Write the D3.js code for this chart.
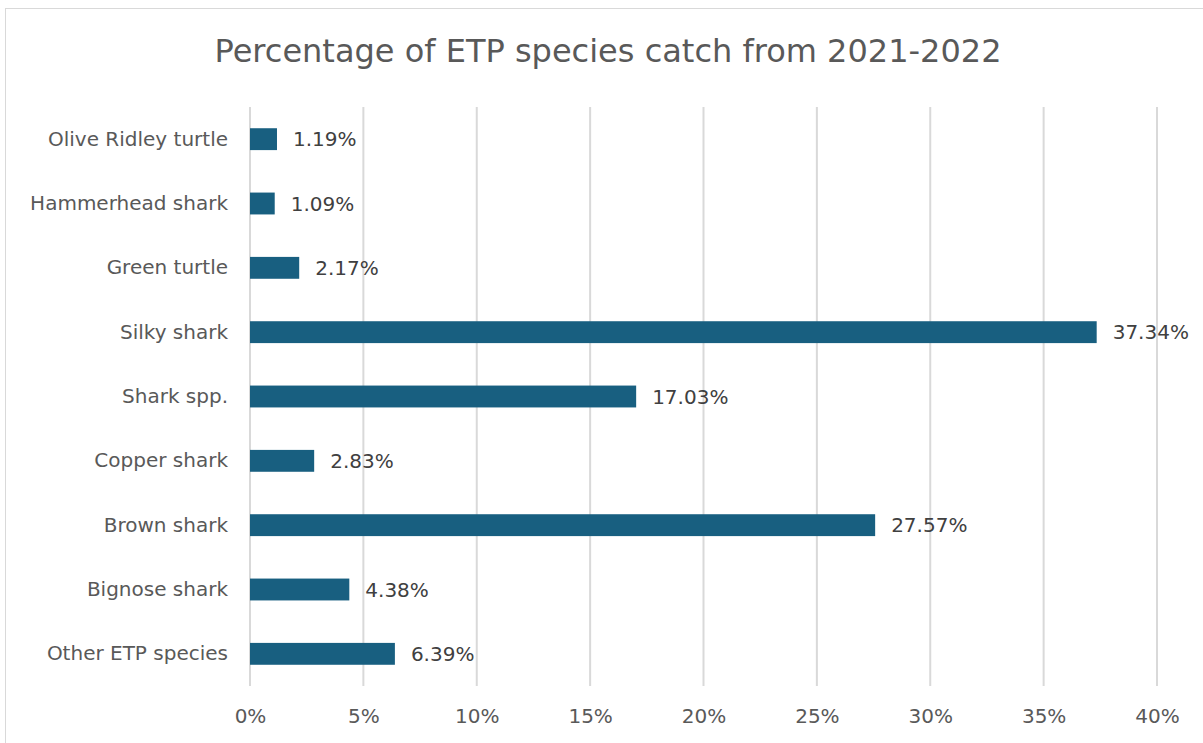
<!DOCTYPE html>
<html><head><meta charset="utf-8">
<script src="https://cdn.jsdelivr.net/npm/d3@7"></script>
<style>body{margin:0;background:#fff;} text{font-family:"DejaVu Sans",sans-serif;}</style>
</head><body>
<svg id="c" width="1203" height="743"></svg>
<script>
const categories = ["Olive Ridley turtle","Hammerhead shark","Green turtle","Silky shark","Shark spp.","Copper shark","Brown shark","Bignose shark","Other ETP species"];
const values = [1.19,1.09,2.17,37.34,17.03,2.83,27.57,4.38,6.39];
const tickValues = [0,5,10,15,20,25,30,35,40];
const title = "Percentage of ETP species catch from 2021-2022";

const FONT = "DejaVu Sans";
const svg = d3.select("#c");
svg.append("rect").attr("x",5.5).attr("y",8.5).attr("width",1203).attr("height",750)
  .attr("fill","#fff").attr("stroke","#d9d9d9");
svg.append("text").attr("x",608).attr("y",62).attr("text-anchor","middle")
  .attr("fill","#595959").style("font-size","32px").text(title);

const x = d3.scaleLinear().domain([0,40]).range([250,1157]);
const y = d3.scaleBand().domain(categories).range([107,686]).paddingInner(0.66).paddingOuter(0.33);

const grid = svg.append("g");
grid.selectAll("line").data(tickValues).join("line")
  .attr("x1",d=>x(d)).attr("x2",d=>x(d)).attr("y1",107).attr("y2",686)
  .attr("stroke","#d9d9d9").attr("stroke-width",2);

const xAxis = svg.append("g").attr("transform","translate(0,686)")
  .call(d3.axisBottom(x).tickValues(tickValues).tickFormat(d=>d+"%").tickSize(0).tickPadding(23));
xAxis.select(".domain").remove();
xAxis.selectAll("text").attr("fill","#595959").style("font-size","20px").style("font-family",FONT);

const yAxis = svg.append("g").attr("transform","translate(228,0)")
  .call(d3.axisLeft(y).tickSize(0).tickPadding(0));
yAxis.select(".domain").remove();
yAxis.selectAll("text").attr("fill","#595959").style("font-size","20px").style("font-family",FONT);

svg.append("g").selectAll("rect").data(values).join("rect")
  .attr("x",x(0)).attr("y",(d,i)=>y(categories[i]))
  .attr("width",d=>x(d)-x(0)).attr("height",y.bandwidth())
  .attr("fill","#185f80");

svg.append("g").selectAll("text").data(values).join("text")
  .attr("x",d=>x(d)+16).attr("y",(d,i)=>y(categories[i])+y.bandwidth()/2)
  .attr("dy","0.35em").attr("fill","#404040").style("font-size","20px")
  .text(d=>d.toFixed(2)+"%");
</script>
</body></html>
